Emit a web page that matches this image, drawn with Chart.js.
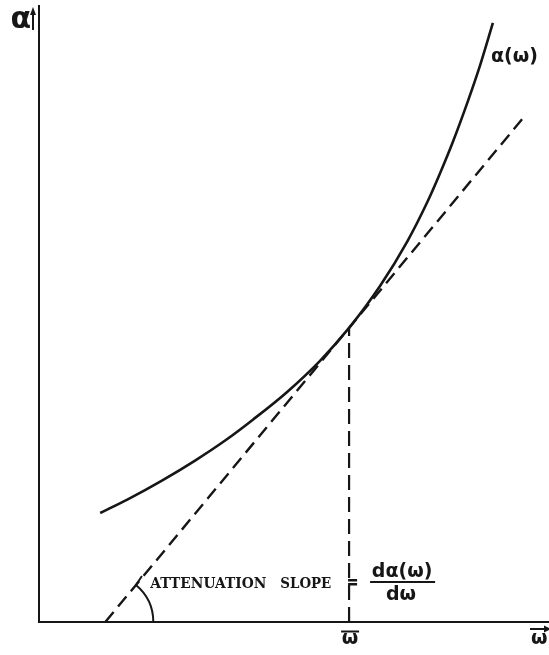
<!DOCTYPE html>
<html>
<head>
<meta charset="utf-8">
<script src="https://cdn.jsdelivr.net/npm/chart.js@4"></script>
<style>
  html, body { margin: 0; padding: 0; background: #ffffff; }
  #wrap { width: 549px; height: 655px; }
</style>
</head>
<body>
<div id="wrap"><canvas id="c" width="549" height="655"></canvas></div>
<script>
// Attenuation α(ω) against frequency ω, arbitrary units
const curveOmega = [1.20, 1.75, 2.41, 3.06, 3.65, 4.20, 4.86, 5.51, 6.08, 6.69, 7.22, 7.61, 7.86, 8.12, 8.41, 8.65, 8.90];
const curveAlpha = [2.12, 2.39, 2.75, 3.14, 3.53, 3.94, 4.47, 5.08, 5.72, 6.54, 7.40, 8.16, 8.72, 9.35, 10.13, 10.83, 11.65];

// working frequency ω̄ and the attenuation there
const omegaBar = 6.08;
const alphaBar = 5.72;

// tangent to α(ω) at ω̄: from the ω axis up to its upper end
const tangentOmega = [1.30, 9.49];
const tangentAlpha = [0.00, 9.80];

// axis extents
const omegaMax = 10;
const alphaMax = 12;

const ink = '#161616';

const pts = (xs, ys) => xs.map((x, i) => ({ x, y: ys[i] }));

// text, arc and arrows drawn on top of the plotted lines
const annotations = {
  id: 'annotations',
  afterDatasetsDraw(chart) {
    const ctx = chart.ctx;
    const sx = chart.scales.x, sy = chart.scales.y;
    const x0 = sx.getPixelForValue(0);
    const y0 = sy.getPixelForValue(0);
    const yTop = sy.getPixelForValue(alphaMax);
    const xEnd = sx.getPixelForValue(omegaMax);
    const xb = sx.getPixelForValue(omegaBar);

    ctx.save();
    ctx.fillStyle = ink;
    ctx.strokeStyle = ink;
    ctx.lineCap = 'butt';

    // α with a small upward arrow beside the vertical axis
    ctx.font = 'bold 30px "DejaVu Sans"';
    ctx.textAlign = 'right';
    ctx.textBaseline = 'alphabetic';
    ctx.fillText('α', x0 - 8, yTop + 23);
    ctx.lineWidth = 2;
    ctx.beginPath();
    ctx.moveTo(x0 - 6, yTop + 25);
    ctx.lineTo(x0 - 6, yTop + 8);
    ctx.stroke();
    ctx.beginPath();
    ctx.moveTo(x0 - 6, yTop + 2);
    ctx.lineTo(x0 - 9, yTop + 10);
    ctx.lineTo(x0 - 3, yTop + 10);
    ctx.closePath();
    ctx.fill();

    // α(ω) beside the top of the curve
    const n = curveOmega.length;
    const cx = sx.getPixelForValue(curveOmega[n - 1]);
    const cy = sy.getPixelForValue(curveAlpha[n - 1]);
    ctx.font = 'bold 19px "DejaVu Sans"';
    ctx.textAlign = 'left';
    ctx.fillText('α(ω)', cx - 2, cy + 39);

    // angle arc where the tangent meets the ω axis
    const fx = sx.getPixelForValue(tangentOmega[0]);
    const fy = sy.getPixelForValue(tangentAlpha[0]);
    const tx = sx.getPixelForValue(tangentOmega[1]);
    const ty = sy.getPixelForValue(tangentAlpha[1]);
    const ang = Math.atan2(ty - fy, tx - fx);
    const r = 48;
    ctx.lineWidth = 2;
    ctx.beginPath();
    ctx.arc(fx, fy, r, 0, ang, true);
    const ax = fx + r * Math.cos(ang), ay = fy + r * Math.sin(ang);
    ctx.lineTo(ax + 6, ay - 9);
    ctx.stroke();

    // ATTENUATION SLOPE = dα(ω)/dω
    const fitText = (s, x, y, w, font) => {
      ctx.font = font;
      const m = ctx.measureText(s).width;
      ctx.save();
      ctx.translate(x, y);
      ctx.scale(w / m, 1);
      ctx.textAlign = 'left';
      ctx.fillText(s, 0, 0);
      ctx.restore();
    };
    const base = y0 - 34;
    const serif = 'bold 15px "DejaVu Serif"';
    fitText('ATTENUATION', fx + 45, base, 116, serif);
    fitText('SLOPE', fx + 175, base, 51, serif);
    ctx.fillRect(xb - 1, base - 9, 9, 2.5);
    ctx.fillRect(xb - 1, base - 5, 9, 2.5);

    const fc = xb + 53;
    ctx.font = 'bold 19px "DejaVu Sans"';
    ctx.textAlign = 'center';
    ctx.fillText('dα(ω)', fc, base - 11);
    ctx.lineWidth = 2;
    ctx.beginPath();
    ctx.moveTo(fc - 32, base - 6);
    ctx.lineTo(fc + 33, base - 6);
    ctx.stroke();
    ctx.fillText('dω', fc - 1, base + 12);

    // ω̄ under the axis at the working frequency
    ctx.font = 'bold 19px "DejaVu Sans"';
    ctx.textAlign = 'center';
    ctx.fillText('ω', xb + 1, y0 + 22);
    ctx.lineWidth = 2;
    ctx.beginPath();
    ctx.moveTo(xb - 8, y0 + 9.5);
    ctx.lineTo(xb + 10, y0 + 9.5);
    ctx.stroke();

    // ω with an arrow at the right end of the axis
    ctx.textAlign = 'left';
    ctx.fillText('ω', xEnd - 18, y0 + 22);
    ctx.beginPath();
    ctx.moveTo(xEnd - 19, y0 + 7);
    ctx.lineTo(xEnd + 2, y0 + 7);
    ctx.stroke();
    ctx.beginPath();
    ctx.moveTo(xEnd + 2, y0 + 7);
    ctx.lineTo(xEnd - 5, y0 + 3.5);
    ctx.lineTo(xEnd - 5, y0 + 10.5);
    ctx.closePath();
    ctx.fill();

    ctx.restore();
  }
};

new Chart(document.getElementById('c'), {
  type: 'scatter',
  data: {
    datasets: [
      {
        label: 'α(ω)',
        data: pts(curveOmega, curveAlpha),
        showLine: true,
        borderColor: ink,
        borderWidth: 2.6,
        pointRadius: 0,
        cubicInterpolationMode: 'monotone',
        clip: false
      },
      {
        label: 'tangent',
        data: pts(tangentOmega, tangentAlpha),
        showLine: true,
        borderColor: ink,
        borderWidth: 2.4,
        borderDash: [13, 7],
        pointRadius: 0,
        clip: false
      },
      {
        label: 'ω̄',
        data: [{ x: omegaBar, y: 0 }, { x: omegaBar, y: alphaBar }],
        showLine: true,
        borderColor: ink,
        borderWidth: 2.2,
        borderDash: [15, 7],
        pointRadius: 0,
        clip: false
      },
      {
        label: 'ω axis',
        data: [{ x: -0.02, y: 0 }, { x: omegaMax, y: 0 }],
        showLine: true,
        borderColor: ink,
        borderWidth: 2,
        pointRadius: 0,
        clip: false
      },
      {
        label: 'α axis',
        data: [{ x: 0, y: 0 }, { x: 0, y: alphaMax }],
        showLine: true,
        borderColor: ink,
        borderWidth: 2,
        pointRadius: 0,
        clip: false
      }
    ]
  },
  options: {
    responsive: false,
    animation: false,
    events: [],
    layout: { padding: { left: 39, right: 0, top: 5, bottom: 33 } },
    scales: {
      x: { type: 'linear', min: 0, max: omegaMax, display: false },
      y: { type: 'linear', min: 0, max: alphaMax, display: false }
    },
    plugins: {
      legend: { display: false },
      tooltip: { enabled: false }
    }
  },
  plugins: [annotations]
});
</script>
</body>
</html>
